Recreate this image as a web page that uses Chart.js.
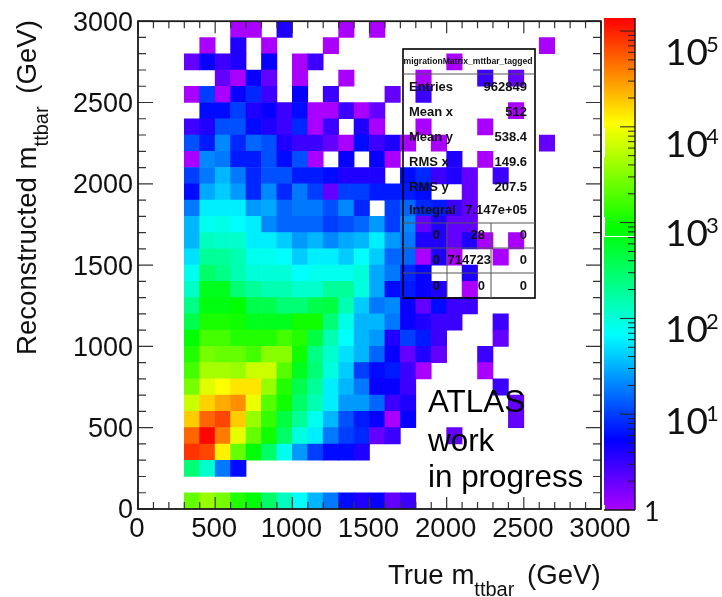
<!DOCTYPE html>
<html>
<head>
<meta charset="utf-8">
<title>migrationMatrix_mttbar_tagged</title>
<script src="https://cdn.jsdelivr.net/npm/chart.js@4"></script>
<style>
  html, body { margin: 0; padding: 0; background: #fff; }
  #page { position: relative; width: 722px; height: 597px; overflow: hidden; }
  #matrix-canvas { position: absolute; left: 0; top: 0; }
  #palette-canvas { position: absolute; left: 604px; top: 0; }
</style>
</head>
<body>
<div id="page">
  <canvas id="matrix-canvas" width="722" height="597"></canvas>
  <canvas id="palette-canvas" width="118" height="597"></canvas>
</div>
<script>
/* left edge of every true mass bin, GeV */
const trueBins = [300, 400, 500, 600, 700, 800, 900, 1000, 1100, 1200, 1300, 1400, 1500, 1600,
  1700, 1800, 1900, 2000, 2100, 2200, 2300, 2400, 2500, 2600, 2700, 2800, 2900];

/* lower edge of every reconstructed mass bin, same order as binCounts */
const recoBins = [2900, 2800, 2700, 2600, 2500, 2400, 2300, 2200, 2100, 2000, 1900, 1800, 1700, 1600, 1500,
  1400, 1300, 1200, 1100, 1000, 900, 800, 700, 600, 500, 400, 300, 200, 100, 0];

/* counts, 0 means empty (white) bin */
const binCounts = [
  [0, 0, 0, 1, 1, 0, 4, 0, 0, 0, 1, 0, 1, 0, 0, 0, 0, 0, 0, 0, 0, 0, 0, 0, 0, 0, 0],
  [0, 1, 0, 4, 0, 1, 0, 0, 0, 1, 0, 0, 0, 0, 0, 0, 0, 0, 0, 0, 0, 0, 0, 1, 0, 0, 0],
  [2, 5, 3, 4, 0, 5, 0, 1, 3, 0, 0, 0, 0, 0, 0, 0, 0, 1, 0, 0, 0, 0, 0, 0, 0, 0, 0],
  [0, 0, 2, 1, 5, 2, 0, 1, 0, 0, 1, 0, 0, 0, 0, 1, 0, 0, 0, 3, 0, 2, 0, 0, 0, 0, 0],
  [1, 10, 1, 5, 8, 3, 0, 5, 0, 3, 0, 0, 0, 2, 0, 3, 0, 0, 0, 0, 0, 0, 0, 0, 0, 0, 0],
  [0, 6, 6, 10, 4, 5, 3, 6, 1, 1, 3, 1, 2, 0, 0, 0, 0, 0, 0, 0, 0, 1, 0, 0, 0, 0, 0],
  [3, 4, 12, 12, 6, 4, 3, 8, 1, 3, 0, 4, 1, 0, 0, 1, 0, 0, 0, 1, 0, 0, 0, 0, 0, 0, 0],
  [12, 7, 21, 8, 15, 12, 4, 3, 3, 2, 1, 6, 3, 4, 1, 0, 1, 0, 0, 0, 0, 0, 0, 2, 0, 0, 0],
  [1, 21, 18, 7, 7, 12, 6, 12, 1, 0, 5, 0, 5, 1, 0, 0, 0, 4, 0, 1, 0, 0, 0, 0, 0, 0, 0],
  [10, 18, 33, 18, 8, 12, 12, 7, 7, 6, 4, 4, 4, 0, 6, 8, 3, 4, 2, 0, 3, 0, 0, 0, 0, 0, 0],
  [6, 29, 41, 25, 8, 21, 8, 18, 10, 2, 10, 10, 7, 7, 7, 6, 0, 0, 2, 0, 0, 0, 0, 0, 0, 0, 0],
  [18, 58, 58, 58, 25, 29, 15, 18, 18, 12, 21, 8, 0, 10, 15, 8, 7, 3, 2, 0, 0, 0, 0, 0, 0, 0, 0],
  [33, 80, 85, 68, 58, 21, 15, 15, 15, 10, 12, 15, 25, 10, 21, 2, 4, 2, 2, 0, 0, 0, 0, 0, 0, 0, 0],
  [33, 130, 113, 113, 58, 58, 41, 25, 33, 21, 29, 33, 58, 25, 18, 4, 4, 2, 4, 1, 0, 1, 0, 0, 0, 0, 0],
  [50, 188, 188, 150, 80, 80, 68, 41, 58, 58, 41, 68, 41, 15, 15, 1, 4, 1, 0, 0, 1, 0, 0, 0, 0, 0, 0],
  [80, 312, 230, 150, 100, 100, 100, 68, 80, 80, 80, 100, 29, 18, 8, 5, 0, 0, 4, 0, 0, 0, 0, 0, 0, 0, 0],
  [120, 650, 650, 270, 188, 150, 150, 113, 113, 188, 188, 95, 29, 6, 7, 5, 4, 0, 1, 0, 0, 0, 0, 0, 0, 0, 0],
  [230, 750, 750, 860, 400, 400, 270, 270, 400, 450, 150, 41, 18, 21, 5, 2, 6, 3, 3, 0, 0, 0, 0, 0, 0, 0, 0],
  [400, 1100, 1100, 1000, 650, 650, 650, 1000, 1000, 270, 85, 33, 33, 18, 5, 4, 3, 3, 0, 0, 3, 0, 0, 0, 0, 0, 0],
  [860, 1700, 1700, 1200, 1200, 1200, 1700, 1200, 450, 150, 68, 33, 25, 4, 10, 7, 3, 0, 0, 0, 2, 0, 0, 0, 0, 0, 0],
  [1200, 2800, 2360, 2360, 1700, 3300, 3300, 1000, 230, 113, 50, 33, 15, 5, 2, 4, 2, 0, 0, 3, 0, 0, 0, 0, 0, 0, 0],
  [1700, 4500, 4500, 3900, 6500, 6500, 2000, 650, 270, 95, 41, 10, 6, 7, 3, 1, 0, 0, 0, 1, 0, 0, 0, 0, 0, 0, 0],
  [2800, 8000, 10800, 14000, 14000, 3900, 1200, 400, 188, 58, 33, 18, 5, 5, 3, 0, 0, 0, 0, 0, 3, 0, 0, 0, 0, 0, 0],
  [6500, 17000, 25000, 33000, 9000, 2000, 1000, 312, 150, 58, 25, 25, 15, 3, 4, 0, 0, 0, 0, 0, 0, 2, 0, 0, 0, 0, 0],
  [18000, 50000, 68000, 18000, 3900, 1420, 450, 188, 80, 33, 12, 7, 5, 1, 5, 0, 0, 0, 0, 0, 0, 2, 0, 0, 0, 0, 0],
  [50000, 130000, 40000, 8500, 2360, 1000, 312, 95, 58, 18, 10, 8, 2, 3, 0, 0, 0, 2, 0, 0, 0, 0, 0, 0, 0, 0, 0],
  [82000, 68000, 12500, 2360, 800, 312, 80, 25, 10, 6, 6, 4, 0, 0, 0, 0, 0, 0, 0, 0, 0, 0, 0, 0, 0, 0, 0],
  [270, 113, 18, 6, 0, 0, 0, 0, 0, 0, 0, 0, 0, 0, 0, 0, 0, 0, 0, 0, 0, 0, 0, 0, 0, 0, 0],
  [0, 0, 0, 0, 0, 0, 0, 0, 0, 0, 0, 0, 0, 0, 0, 0, 0, 0, 0, 0, 0, 0, 0, 0, 0, 0, 0],
  [2360, 3900, 2800, 1200, 800, 312, 130, 70, 33, 18, 6, 4, 5, 2, 3, 0, 0, 0, 0, 0, 0, 0, 0, 0, 0, 0, 0]
];

const binWidth = 100;
const axisMax = 3000;
const paletteRange = [1, 136800];
const paletteMajorTicks = [1e1, 1e2, 1e3, 1e4, 1e5];

/* stats box content */
const statsTitle = 'migrationMatrix_mttbar_tagged';
const statsNames = ['Entries', 'Mean x', 'Mean y', 'RMS x', 'RMS y', 'Integral'];
const statsValues = ['962849', '512', '538.4', '149.6', '207.5', '7.147e+05'];
const statsGrid = [['0', '28', '0'], ['0', '714723', '0'], ['0', '0', '0']];

const stampLines = ['ATLAS', 'work', 'in progress'];

const helvetica = '"Liberation Sans", Arial, sans-serif';
const inkColor = '#1a1a1a';

/* same as the ROOT rainbow palette: hue 280 at the bottom down to 0 at the top */
function colorForCount(count) {
    const position = Math.log(count) / Math.log(paletteRange[1]);
    return `hsl(${280 * (1 - Math.min(position, 1))}, 100%, 50%)`;
}

function buildMatrixCells() {
    const cells = [];
    binCounts.forEach((row, rowIndex) => {
        row.forEach((count, columnIndex) => {
            if (count > 0) {
                cells.push({
                    x: trueBins[columnIndex] + binWidth / 2,
                    y: [recoBins[rowIndex], recoBins[rowIndex] + binWidth],
                    count: count
                });
            }
        });
    });
    return cells;
}

// draws "before" then a lowered small "sub" then "after", from the current origin
function drawSubscriptText(ctx, before, sub, after, x, y) {
    ctx.textAlign = 'left';
    ctx.textBaseline = 'alphabetic';
    ctx.font = `27.6px ${helvetica}`;
    ctx.fillText(before, x, y);
    let cursor = x + ctx.measureText(before).width;
    ctx.font = `20px ${helvetica}`;
    ctx.fillText(sub, cursor, y + 12);
    cursor += ctx.measureText(sub).width;
    ctx.font = `27.6px ${helvetica}`;
    ctx.fillText(after, cursor + 5, y);
}

const matrixDecorations = {
    id: 'matrixDecorations',
    afterDraw(chart) {
        const { ctx, chartArea, scales } = chart;
        const { left, right, top, bottom } = chartArea;
        ctx.save();

        /* inward ticks on the four sides */
        ctx.strokeStyle = '#333';
        ctx.lineWidth = 1.2;
        ctx.beginPath();
        for (let value = 0; value <= axisMax; value += binWidth) {
            const xLength = value % 500 === 0 ? 12 : 7;
            const yLength = value % 500 === 0 ? 15 : 8;
            const px = scales.x.getPixelForValue(value);
            const py = scales.y.getPixelForValue(value);
            ctx.moveTo(px, bottom); ctx.lineTo(px, bottom - xLength);
            ctx.moveTo(px, top); ctx.lineTo(px, top + xLength);
            ctx.moveTo(left, py); ctx.lineTo(left + yLength, py);
            ctx.moveTo(right, py); ctx.lineTo(right - yLength, py);
        }
        ctx.stroke();

        /* frame */
        ctx.strokeStyle = inkColor;
        ctx.lineWidth = 1.8;
        ctx.strokeRect(left, top, right - left, bottom - top);

        /* stats box, see-through like the original */
        ctx.strokeStyle = '#000';
        ctx.lineWidth = 1.6;
        ctx.strokeRect(403, 49, 132, 249);
        ctx.strokeStyle = '#555';
        ctx.lineWidth = 1;
        ctx.beginPath();
        ctx.moveTo(403, 74); ctx.lineTo(535, 74);
        [223, 248, 273].forEach(y => { ctx.moveTo(403, y); ctx.lineTo(535, y); });
        [447, 491].forEach(x => { ctx.moveTo(x, 223); ctx.lineTo(x, 298); });
        ctx.stroke();

        ctx.fillStyle = '#111';
        ctx.textBaseline = 'alphabetic';
        ctx.textAlign = 'center';
        ctx.font = `bold 8.6px ${helvetica}`;
        ctx.fillText(statsTitle, 468, 64);
        ctx.font = `bold 13px ${helvetica}`;
        const statsBaselines = [91, 116, 141, 166, 191, 214];
        statsNames.forEach((name, index) => {
            ctx.textAlign = 'left';
            ctx.fillText(name, 409, statsBaselines[index]);
            ctx.textAlign = 'right';
            ctx.fillText(statsValues[index], 527, statsBaselines[index]);
        });
        const gridBaselines = [239, 264, 290];
        const gridRights = [440, 491, 527];
        statsGrid.forEach((row, rowIndex) => {
            row.forEach((text, columnIndex) => {
                let rightEdge = gridRights[columnIndex];
                if (columnIndex === 1 && text.length < 3) rightEdge = 485;
                ctx.fillText(text, rightEdge, gridBaselines[rowIndex]);
            });
        });

        /* stamp */
        ctx.fillStyle = '#000';
        ctx.textAlign = 'left';
        ctx.font = `31.4px ${helvetica}`;
        const stampBaselines = [412, 451, 487];
        stampLines.forEach((line, index) => ctx.fillText(line, 428, stampBaselines[index]));

        /* axis titles, Chart.js titles can't do subscripts */
        ctx.fillStyle = '#111';
        drawSubscriptText(ctx, 'True m', 'ttbar', ' (GeV)', 388, 584);
        ctx.translate(36, 355);
        ctx.rotate(-Math.PI / 2);
        drawSubscriptText(ctx, 'Reconstructed m', 'ttbar', ' (GeV)', 0, 0);
        ctx.restore();
    }
};

new Chart(document.getElementById('matrix-canvas'), {
    type: 'bar',
    data: {
        datasets: [{
            label: 'migration matrix',
            data: buildMatrixCells(),
            backgroundColor: context => context.raw ? colorForCount(context.raw.count) : 'transparent',
            borderWidth: 0,
            barPercentage: 1,
            categoryPercentage: 1
        }]
    },
    plugins: [matrixDecorations],
    options: {
        responsive: false,
        animation: false,
        layout: { padding: { left: 0, right: 121, top: 18, bottom: 0 } },
        plugins: { legend: { display: false }, tooltip: { enabled: false } },
        scales: {
            x: {
                type: 'linear',
                min: 0,
                max: axisMax,
                offset: false,
                grid: { display: false, drawTicks: false },
                border: { display: false },
                afterFit: scale => { scale.height = 88; },
                ticks: {
                    stepSize: 500,
                    maxRotation: 0,
                    padding: 4,
                    labelOffset: -1,
                    autoSkip: false,
                    color: '#111',
                    callback: value => String(value),
                    font: { family: helvetica, size: 27.6 }
                }
            },
            y: {
                type: 'linear',
                min: 0,
                max: axisMax,
                grid: { display: false, drawTicks: false },
                border: { display: false },
                afterFit: scale => { scale.width = 138; },
                ticks: {
                    stepSize: 500,
                    padding: 5,
                    labelOffset: 2,
                    color: '#111',
                    callback: value => String(value),
                    font: { family: helvetica, size: 27 }
                }
            }
        }
    }
});

/* palette */
const paletteDecorations = {
    id: 'paletteDecorations',
    afterDraw(chart) {
        const { ctx, chartArea, scales } = chart;
        ctx.save();

        /* white seams that the original picture has in its palette */
        ctx.fillStyle = '#fff';
        ctx.fillRect(chartArea.left, 236, chartArea.right - chartArea.left, 1);
        ctx.fillRect(chartArea.left, 128, 1, 29);
        ctx.fillRect(chartArea.left, 217, 1, 19);
        ctx.fillRect(chartArea.left, 505, 1, 5);

        ctx.strokeStyle = '#222';
        ctx.lineWidth = 1;
        ctx.beginPath();
        for (let decade = 1; decade <= 1e5; decade *= 10) {
            for (let step = 1; step <= 9; step++) {
                const value = decade * step;
                if (value === 1 || value > paletteRange[1]) continue;
                const length = step === 1 ? 15 : 7;
                const py = scales.y.getPixelForValue(value);
                ctx.moveTo(chartArea.right, py);
                ctx.lineTo(chartArea.right - length, py);
            }
        }
        ctx.stroke();
        ctx.strokeStyle = '#111';
        ctx.lineWidth = 1.4;
        ctx.beginPath();
        ctx.moveTo(chartArea.right, chartArea.top);
        ctx.lineTo(chartArea.right, chartArea.bottom);
        ctx.moveTo(chartArea.left, chartArea.bottom);
        ctx.lineTo(chartArea.right, chartArea.bottom);
        ctx.stroke();

        /* the labels sit a bit lower than their ticks in the original */
        const labelOffsets = [20, 24, 23, 30, 34];
        ctx.fillStyle = '#111';
        ctx.textAlign = 'left';
        ctx.textBaseline = 'alphabetic';
        paletteMajorTicks.forEach((value, index) => {
            const baseline = scales.y.getPixelForValue(value) + labelOffsets[index];
            ctx.font = '37px Lato, sans-serif';
            ctx.fillText('10', 61, baseline);
            ctx.font = '22px Lato, sans-serif';
            ctx.fillText(String(index + 1), 102, baseline - 13);
        });
        ctx.font = '27px Lato, sans-serif';
        ctx.fillText('1', 40, 521);
        ctx.restore();
    }
};

new Chart(document.getElementById('palette-canvas'), {
    type: 'bar',
    data: {
        labels: ['palette'],
        datasets: [{
            data: [paletteRange],
            borderWidth: 0,
            barPercentage: 1,
            categoryPercentage: 1,
            backgroundColor: context => {
                const area = context.chart.chartArea;
                if (!area) return '#fff';
                const gradient = context.chart.ctx.createLinearGradient(0, area.bottom, 0, area.top);
                for (let stop = 0; stop <= 14; stop++) {
                    gradient.addColorStop(stop / 14, `hsl(${280 - 20 * stop}, 100%, 50%)`);
                }
                return gradient;
            }
        }]
    },
    plugins: [paletteDecorations],
    options: {
        responsive: false,
        animation: false,
        layout: { padding: { left: 0, right: 87, top: 18, bottom: 87 } },
        plugins: { legend: { display: false }, tooltip: { enabled: false } },
        scales: {
            x: { display: false },
            y: { type: 'logarithmic', display: false, min: paletteRange[0], max: paletteRange[1] }
        }
    }
});
</script>
</body>
</html>
